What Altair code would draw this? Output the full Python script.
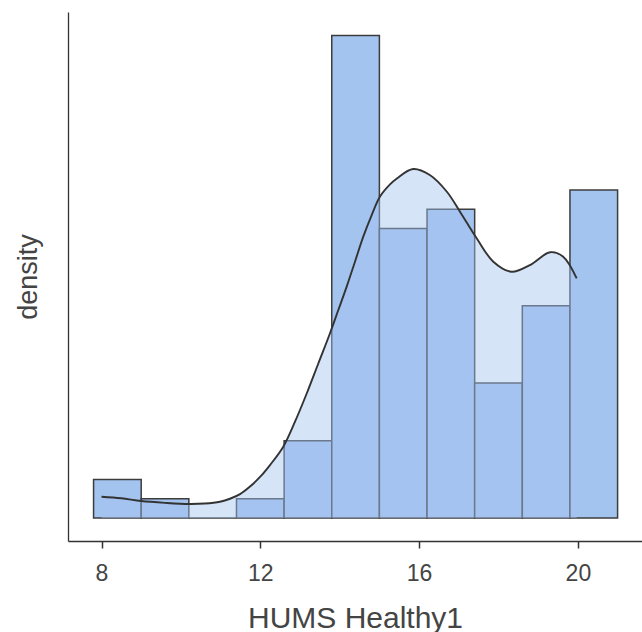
import altair as alt
import pandas as pd

# ---- data ----
bin_starts = [7.8, 9.0, 10.2, 11.4, 12.6, 13.8, 15.0, 16.2, 17.4, 18.6, 19.8]
bin_width = 1.2
counts = [2, 1, 0, 1, 4, 25, 15, 16, 7, 11, 17]

kde_x = [8.0, 8.5, 9.0, 9.6, 10.2, 10.6, 10.985, 11.237, 11.489, 11.741, 11.993,
         12.244, 12.579, 12.874, 13.169, 13.461, 13.756, 13.965, 14.176, 14.385,
         14.594, 14.806, 15.015, 15.267, 15.44, 15.85, 16.27, 16.70, 17.03, 17.45,
         17.87, 18.33, 18.79, 19.30, 19.63, 19.97]
kde_y = [0.0093, 0.0086, 0.0074, 0.0066, 0.0061, 0.0063, 0.0071, 0.0084, 0.0104,
         0.0137, 0.0179, 0.0231, 0.0311, 0.0420, 0.0543, 0.0674, 0.0806, 0.0907,
         0.1009, 0.1118, 0.1227, 0.1321, 0.1402, 0.1455, 0.1481, 0.1522, 0.1496,
         0.1423, 0.1336, 0.1220, 0.1118, 0.1074, 0.1103, 0.1159, 0.1140, 0.1045]

x_ticks = [8, 12, 16, 20]
x_title = "HUMS Healthy1"
y_title = "density"

n = sum(counts)
hist = pd.DataFrame({
    "start": bin_starts,
    "end": [s + bin_width for s in bin_starts],
    "density": [c / (n * bin_width) for c in counts],
})
kde = pd.DataFrame({"x": kde_x, "density": kde_y})

FONT = "Liberation Sans"
BAR = "#a4c4f0"

xscale = alt.Scale(domain=[7.156, 21.615], nice=False, zero=False)
yscale = alt.Scale(domain=[-0.01003, 0.2207], nice=False, zero=False)

xaxis = alt.Axis(values=x_ticks, title=x_title, grid=False, domainColor="#333333",
                 domainWidth=1.3, tickColor="#333333", tickWidth=1.5, tickSize=7,
                 labelFont=FONT, labelFontSize=23, labelColor="#444444",
                 labelBaseline="alphabetic", labelPadding=32,
                 titleFont=FONT, titleFontSize=30, titleFontWeight="normal",
                 titleColor="#444444", titleBaseline="alphabetic",
                 titleX=287, titleY=86, titleAlign="center")
yaxis = alt.Axis(title=y_title, grid=False, ticks=False, labels=False,
                 domainColor="#333333", domainWidth=1.3,
                 titleFont=FONT, titleFontSize=27, titleFontWeight="normal",
                 titleColor="#444444", titleAngle=-90, titleBaseline="alphabetic",
                 titleAlign="center", titleX=-32, titleY=264.5)

bars = alt.Chart(hist).mark_rect(fill=BAR, stroke="#3c3c3c", strokeWidth=1.5).encode(
    x=alt.X("start:Q", scale=xscale, axis=xaxis),
    x2="end:Q",
    y=alt.Y("density:Q", scale=yscale, axis=yaxis),
    y2=alt.datum(0),
)

area = alt.Chart(kde).mark_area(interpolate="catmull-rom", color=BAR, opacity=0.45).encode(
    x=alt.X("x:Q", scale=xscale),
    y=alt.Y("density:Q", scale=yscale),
    y2=alt.datum(0),
)

line = alt.Chart(kde).mark_line(interpolate="catmull-rom", color="#333333", strokeWidth=1.9).encode(
    x=alt.X("x:Q", scale=xscale),
    y=alt.Y("density:Q", scale=yscale),
)

chart = alt.layer(bars, area, line).properties(
    width=574, height=529,
    padding={"left": 68, "top": 12, "right": 0, "bottom": 91},
    autosize=alt.AutoSizeParams(type="none"),
    background="white",
).configure_view(stroke=None)

chart.save("out.html", embed_options={"renderer": "svg", "actions": False})
